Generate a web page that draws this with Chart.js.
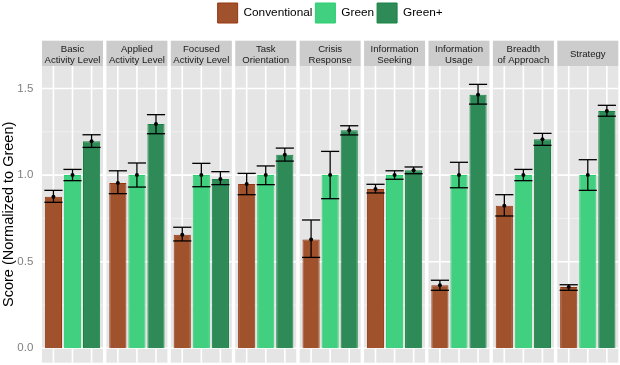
<!DOCTYPE html>
<html><head><meta charset="utf-8">
<script src="https://cdn.jsdelivr.net/npm/chart.js@4/dist/chart.umd.min.js"></script>
<style>html,body{margin:0;padding:0;background:#fff;}#wrap{width:620px;height:365px;}</style>
</head><body><div id="wrap"><canvas id="c" width="620" height="365"></canvas></div>
<script>
const categories = [
  ['Basic', 'Activity Level'], ['Applied', 'Activity Level'], ['Focused', 'Activity Level'],
  ['Task', 'Orientation'], ['Crisis', 'Response'], ['Information', 'Seeking'],
  ['Information', 'Usage'], ['Breadth', 'of Approach'], ['Strategy']
];
const seriesNames = ['Conventional', 'Green', 'Green+'];

const conventional     = [0.875, 0.954, 0.656, 0.949, 0.629, 0.920, 0.364, 0.823, 0.354];
const conventionalLow  = [0.843, 0.893, 0.620, 0.887, 0.525, 0.897, 0.335, 0.764, 0.335];
const conventionalHigh = [0.912, 1.025, 0.699, 1.010, 0.741, 0.947, 0.393, 0.887, 0.367];

const green     = [1.0, 1.0, 1.0, 1.0, 1.0, 1.0, 1.0, 1.0, 1.0];
const greenLow  = [0.968, 0.931, 0.933, 0.945, 0.864, 0.976, 0.927, 0.968, 0.912];
const greenHigh = [1.033, 1.070, 1.068, 1.053, 1.137, 1.025, 1.074, 1.033, 1.089];

const greenPlus     = [1.195, 1.295, 0.977, 1.118, 1.259, 1.028, 1.464, 1.207, 1.370];
const greenPlusLow  = [1.160, 1.239, 0.945, 1.081, 1.232, 1.008, 1.410, 1.172, 1.340];
const greenPlusHigh = [1.233, 1.349, 1.020, 1.156, 1.285, 1.047, 1.524, 1.241, 1.403];

const yTickValues = [0, 0.5, 1.0, 1.5];
const yMinorValues = [0.25, 0.75, 1.25];
const yTitle = 'Score (Normalized to Green)';

const errorLows = [conventionalLow, greenLow, greenPlusLow];
const errorHighs = [conventionalHigh, greenHigh, greenPlusHigh];

const FONT = "'Liberation Sans', Arial, Helvetica, sans-serif";
Chart.defaults.font.family = FONT;

function line(ctx, x1, y1, x2, y2) { ctx.beginPath(); ctx.moveTo(x1, y1); ctx.lineTo(x2, y2); ctx.stroke(); }

const panelPlugin = {
  id: 'panels',
  beforeDraw(chart) {
    const { ctx, chartArea: a, scales: { x, y } } = chart;
    const pitch = (a.right - a.left) / categories.length;
    const half = pitch * 0.4735;
    ctx.save();
    categories.forEach((c, i) => {
      const cx = x.getPixelForValue(i);
      const l = cx - half, r = cx + half;
      ctx.fillStyle = '#CCCCCC';
      ctx.fillRect(l, a.top - 25.3, r - l, 25.3);
      ctx.fillStyle = '#E5E5E5';
      ctx.fillRect(l, a.top, r - l, a.bottom - a.top);
      ctx.strokeStyle = '#F2F2F2'; ctx.lineWidth = 0.8;
      yMinorValues.forEach(v => { const py = y.getPixelForValue(v); line(ctx, l, py, r, py); });
      ctx.strokeStyle = '#FFFFFF'; ctx.lineWidth = 1.6;
      yTickValues.forEach(v => { const py = y.getPixelForValue(v); line(ctx, l, py, r, py); });
      chart.data.datasets.forEach((d, j) => {
        const el = chart.getDatasetMeta(j).data[i];
        line(ctx, el.x, a.top, el.x, a.bottom);
      });
    });
    ctx.restore();
  }
};

const errorPlugin = {
  id: 'errorbars',
  afterDatasetsDraw(chart) {
    const { ctx, scales: { y } } = chart;
    ctx.save();
    chart.data.datasets.forEach((d, j) => {
      chart.getDatasetMeta(j).data.forEach((el, i) => {
        const yl = y.getPixelForValue(errorLows[j][i]);
        const yh = y.getPixelForValue(errorHighs[j][i]);
        const ym = y.getPixelForValue(d.data[i]);
        const hw = el.width / 2 + 0.5;
        ctx.strokeStyle = '#000'; ctx.lineWidth = 1.3;
        line(ctx, el.x, yl, el.x, yh);
        line(ctx, el.x - hw, yl, el.x + hw, yl);
        line(ctx, el.x - hw, yh, el.x + hw, yh);
        ctx.fillStyle = '#000';
        ctx.beginPath(); ctx.arc(el.x, ym, 2, 0, Math.PI * 2); ctx.fill();
      });
    });
    ctx.restore();
  }
};

new Chart(document.getElementById('c'), {
  type: 'bar',
  data: {
    labels: categories,
    datasets: [
      { label: seriesNames[0], data: conventional, backgroundColor: '#A0522D', borderColor: '#96360F', borderWidth: 1 },
      { label: seriesNames[1], data: green, backgroundColor: '#41CF80', borderColor: '#2BD16E', borderWidth: 1 },
      { label: seriesNames[2], data: greenPlus, backgroundColor: '#2E8B57', borderColor: '#168442', borderWidth: 1 }
    ]
  },
  options: {
    responsive: false,
    animation: false,
    devicePixelRatio: 1,
    categoryPercentage: 0.888,
    barPercentage: 0.9,
    layout: { padding: { left: 0, right: 0, top: 0, bottom: 2.3 } },
    plugins: {
      tooltip: { enabled: false },
      legend: {
        position: 'top', fullSize: false,
        labels: { boxWidth: 20, boxHeight: 20, padding: 3, color: '#000', font: { size: 11.8, family: FONT } }
      }
    },
    scales: {
      x: {
        position: 'top',
        offset: true,
        grid: { display: false, drawTicks: false },
        border: { display: false },
        ticks: { autoSkip: false, maxRotation: 0, minRotation: 0, color: '#1A1A1A', crossAlign: 'center', padding: 6,
                 font: { size: 9.6, lineHeight: 1.08, family: FONT } },
        afterFit: s => { s.height = 33; s.paddingLeft = 0; s.paddingRight = 0; }
      },
      y: {
        min: -0.083, max: 1.63,
        afterBuildTicks: s => { s.ticks = yTickValues.map(v => ({ value: v })); },
        afterFit: s => { s.width = 40.3; s.paddingTop = 0; s.paddingBottom = 0; },
        grid: { display: false, drawTicks: false },
        border: { display: false },
        ticks: { color: '#7F7F7F', padding: 7, font: { size: 11.5, family: FONT }, callback: v => Number(v).toFixed(1) },
        title: { display: true, text: yTitle, color: '#000', font: { size: 14.5, family: FONT }, padding: { top: 0, bottom: 0 } }
      }
    }
  },
  plugins: [panelPlugin, errorPlugin]
});
</script>
</body></html>
